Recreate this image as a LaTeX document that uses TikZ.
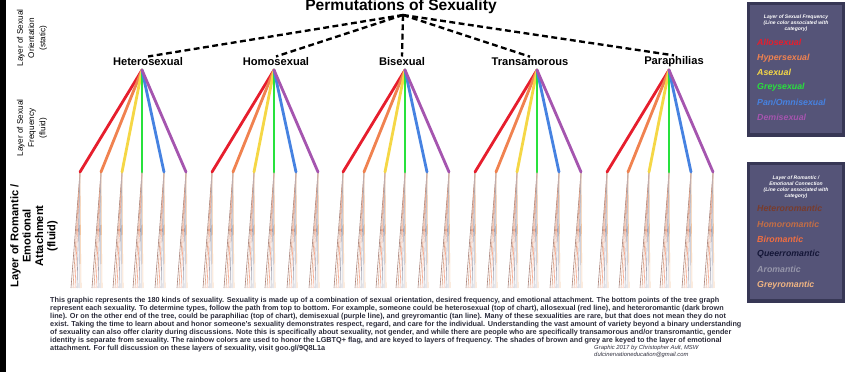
\documentclass[tikz,border=0pt]{standalone}
\usepackage{fontspec}
\setmainfont{Liberation Sans}
\usepackage{xcolor}
\usepackage{tikz}
\usetikzlibrary{positioning, calc}

\definecolor{freqRed}{RGB}{230,30,45}
\definecolor{freqOrange}{RGB}{240,130,80}
\definecolor{freqYellow}{RGB}{245,215,70}
\definecolor{freqGreen}{RGB}{40,225,60}
\definecolor{freqBlue}{RGB}{70,130,225}
\definecolor{freqPurple}{RGB}{165,85,175}
\definecolor{romDarkBrown}{RGB}{120,60,45}
\definecolor{romBrown}{RGB}{195,110,70}
\definecolor{romOrange}{RGB}{240,110,65}
\definecolor{romNavy}{RGB}{20,22,55}
\definecolor{romGrey}{RGB}{150,150,170}
\definecolor{romTan}{RGB}{240,180,130}
\definecolor{keyFrame}{RGB}{55,55,85}
\definecolor{keyFill}{RGB}{85,84,120}
\definecolor{bodyText}{RGB}{45,45,60}

\begin{document}
\begin{tikzpicture}[
    x=0.03cm, y=-0.03cm,
    orientation/.style={font=\fontsize{9.5}{11}\selectfont\bfseries, inner sep=1pt},
    frequency/.style={line width=2.4pt, line cap=round},
    romantic/.style={line width=0.5pt},
    link/.style={line width=2pt, dash pattern=on 5pt off 3pt},
    side label/.style={rotate=90, align=center, font=\fontsize{7}{9.5}\selectfont},
    key title/.style={align=center, text=white, font=\fontsize{4.3}{5}\selectfont\bfseries\itshape},
    key item/.style={anchor=west, inner sep=0pt, font=\fontsize{7.5}{8}\selectfont\bfseries\itshape}
]

\useasboundingbox (0,0) rectangle (848,372);
\fill[black] (0,0) rectangle (6,372);

% Titel en knooppunt
\node[font=\fontsize{13.3}{14}\selectfont\bfseries, anchor=base] (title) at (401,11) {Permutations of Sexuality};
\coordinate (hub) at (403,15);

% Zijlabels
\node[side label] (layer-orient) at (32,38) {Layer of Sexual\\Orientation\\(static)};
\node[side label] (layer-freq) at (32,128) {Layer of Sexual\\Frequency\\(fluid)};
\node[side label, font=\fontsize{9.5}{10.5}\selectfont\bfseries] (layer-rom) at (34,236) {Layer of Romantic /\\Emotional\\Attachment\\(fluid)};

% Orientaties
\foreach \name/\lx/\ax [count=\i] in {Heterosexual/148/142, Homosexual/276/274, Bisexual/402/405, Transamorous/530/537, Paraphilias/674/669} {
    \node[orientation] (orient-\i) at (\lx,62) {\name};
    \coordinate (apex-\i) at (\ax,70);
    \draw[link] (hub) -- (orient-\i.north);
}

% Romantische lijnen
\foreach \i in {1,...,5} {
    \foreach \dx [count=\j] in {-62,-41,-20,0,22,44} {
        \coordinate (end-\i-\j) at ($(apex-\i)+(\dx,102)$);
        \foreach \ox/\col [count=\k] in {-9/romDarkBrown!65, -7/romBrown!65, -5/romOrange!60, -3/romNavy!40, -1/romGrey!70, 1/romTan!75} {
            \coordinate (leaf-\i-\j-\k) at ($(end-\i-\j)+(\ox,116)$);
            \draw[romantic, \col] (end-\i-\j) -- (leaf-\i-\j-\k);
        }
    }
}

% Frequentielijnen
\foreach \i in {1,...,5} {
    \foreach \col [count=\j] in {freqRed, freqOrange, freqYellow, freqGreen, freqBlue, freqPurple} {
        \draw[frequency, \col] (apex-\i) -- (end-\i-\j);
    }
}

% Legenda frequentie
\fill[keyFrame] (747,2) rectangle (845,137);
\fill[keyFill] (750,5) rectangle (842,133);
\node[key title] (freq-title) at (796,23) {Layer of Sexual Frequency\\(Line color associated with\\category)};
\foreach \name/\col/\ky [count=\k] in {Allosexual/freqRed/42, Hypersexual/freqOrange/58, Asexual/freqYellow/72, Greysexual/freqGreen/87, {Pan/Omnisexual}/freqBlue/102, Demisexual/freqPurple/117} {
    \node[key item, text=\col] (freq-key-\k) at (757,\ky) {\name};
}

% Legenda romantiek
\fill[keyFrame] (747,162) rectangle (845,303);
\fill[keyFill] (750,165) rectangle (842,299);
\node[key title] (rom-title) at (796,187) {Layer of Romantic /\\Emotional Connection\\(Line color associated with\\category)};
\foreach \name/\col/\ky [count=\k] in {Heteroromantic/romDarkBrown/208, Homoromantic/romBrown/224, Biromantic/romOrange/239, Queerromantic/romNavy/254, Aromantic/romGrey/269, Greyromantic/romTan/285} {
    \node[key item, text=\col] (rom-key-\k) at (757,\ky) {\name};
}

% Toelichting
\node[anchor=north west, align=left, inner sep=0pt, text=bodyText, font=\fontsize{6.2}{5.67}\selectfont\bfseries] (about) at (50,297) {This graphic represents the 180 kinds of sexuality. Sexuality is made up of a combination of sexual orientation, desired frequency, and emotional attachment. The bottom points of the tree graph\\
represent each sexuality. To determine types, follow the path from top to bottom. For example, someone could be heterosexual (top of chart), allosexual (red line), and heteroromantic (dark brown\\
line). Or on the other end of the tree, could be paraphiliac (top of chart), demisexual (purple line), and greyromantic (tan line). Many of these sexualities are rare, but that does not mean they do not\\
exist. Taking the time to learn about and honor someone's sexuality demonstrates respect, regard, and care for the individual. Understanding the vast amount of variety beyond a binary understanding\\
of sexuality can also offer clarity during discussions. Note this is specifically about sexuality, not gender, and while there are people who are specifically transamorous and/or transromantic, gender\\
identity is separate from sexuality. The rainbow colors are used to honor the LGBTQ+ flag, and are keyed to layers of frequency. The shades of brown and grey are keyed to the layer of emotional\\
attachment. For full discussion on these layers of sexuality, visit goo.gl/9Q8L1a};
\node[anchor=north west, align=left, inner sep=0pt, text=bodyText, font=\fontsize{5}{6}\selectfont\itshape] (credit) at (594,345) {Graphic 2017 by Christopher Ault, MSW\\dulcinervationeducation@gmail.com};

\end{tikzpicture}
\end{document}
